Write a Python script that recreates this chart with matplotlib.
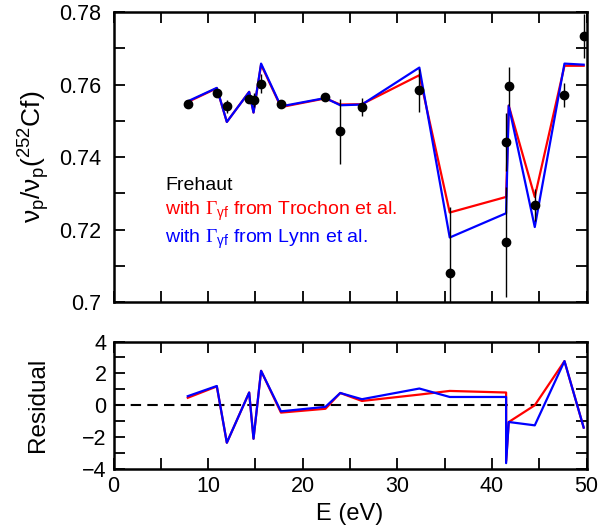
import numpy as np
import matplotlib
matplotlib.use("Agg")
import matplotlib.pyplot as plt
from matplotlib.ticker import MultipleLocator

plt.rcParams['font.family'] = ['Liberation Sans', 'DejaVu Sans']
plt.rcParams['mathtext.fontset'] = 'custom'
plt.rcParams['mathtext.rm'] = 'Liberation Sans'
plt.rcParams['mathtext.it'] = 'Liberation Sans:italic'
plt.rcParams['mathtext.sf'] = 'Liberation Serif'

# Frehaut measurements
energy = [7.85, 10.92, 11.98, 14.34, 14.8, 15.6, 17.7, 22.4, 23.97, 26.26,
          32.33, 35.54, 41.5, 41.5, 41.78, 44.53, 47.67, 49.7]
nu_ratio = [0.7546, 0.7577, 0.7540, 0.7559, 0.7557, 0.7603, 0.7546, 0.7567, 0.7471, 0.7538,
            0.7584, 0.7081, 0.7442, 0.7166, 0.7595, 0.7267, 0.7571, 0.7734]
nu_err = [0.0006, 0.0006, 0.0017, 0.0010, 0.0020, 0.0025, 0.0008, 0.0008, 0.0090, 0.0024,
          0.0060, 0.0180, 0.0080, 0.0152, 0.0054, 0.0044, 0.0033, 0.0060]

# model curves
trochon = [0.7552, 0.7590, 0.7497, 0.7580, 0.7523, 0.7655, 0.7538, 0.7562, 0.7545, 0.7546,
           0.7626, 0.7247, 0.7290, 0.7290, 0.7542, 0.7290, 0.7652, 0.7652]
lynn = [0.7554, 0.7591, 0.7497, 0.7580, 0.7523, 0.7658, 0.7540, 0.7563, 0.7543, 0.7545,
        0.7647, 0.7178, 0.7245, 0.7245, 0.7542, 0.7207, 0.7658, 0.7655]

# residuals
res_trochon = [0.47, 1.18, -2.35, 0.80, -2.10, 2.16, -0.46, -0.22, 0.77, 0.27,
               0.67, 0.90, 0.80, -3.50, -1.05, 0.00, 2.77, -1.40]
res_lynn = [0.57, 1.21, -2.35, 0.80, -2.10, 2.16, -0.38, -0.10, 0.77, 0.38,
            1.05, 0.52, 0.52, -3.63, -1.05, -1.26, 2.77, -1.40]

labels = ['Frehaut',
          r'with $\mathsf{Γ}_{\mathrm{γf}}$ from Trochon et al.',
          r'with $\mathsf{Γ}_{\mathrm{γf}}$ from Lynn et al.']
label_colors = ['black', 'red', 'blue']
label_y = [0.7308, 0.7239, 0.7162]

fig = plt.figure(figsize=(5.98, 5.28), dpi=100)
ax1 = fig.add_axes([0.1898, 0.428, 0.791, 0.549])
ax2 = fig.add_axes([0.1898, 0.1117, 0.791, 0.2415])

lw = 1.6
ax1.plot(energy, trochon, color='red', lw=lw, zorder=2)
ax1.plot(energy, lynn, color='blue', lw=lw, zorder=3)
ax1.errorbar(energy, nu_ratio, yerr=nu_err, fmt='o', color='black', ms=6,
             elinewidth=1.0, capsize=0, zorder=4)
ax1.set_xlim(0, 50)
ax1.set_ylim(0.70, 0.78)
ax1.yaxis.set_minor_locator(MultipleLocator(0.01))
ax1.set_yticks([0.70, 0.72, 0.74, 0.76, 0.78])
ax1.set_yticklabels(['0.7', '0.72', '0.74', '0.76', '0.78'])
ax1.xaxis.set_major_locator(MultipleLocator(10))
ax1.xaxis.set_minor_locator(MultipleLocator(5))
ax1.tick_params(axis='x', labelbottom=False)
ax1.set_ylabel(r'$\mathrm{ν_p/ν_p(^{252}Cf)}$', fontsize=19, labelpad=5)

for txt, c, y in zip(labels, label_colors, label_y):
    ax1.text(5.45, y, txt, color=c, fontsize=14)

ax2.axhline(0, color='black', lw=1.5, ls=(0, (5, 3)), zorder=1)
ax2.plot(energy, res_trochon, color='red', lw=lw, zorder=2)
ax2.plot(energy, res_lynn, color='blue', lw=lw, zorder=3)
ax2.set_xlim(0, 50)
ax2.set_ylim(-4, 4)
ax2.yaxis.set_major_locator(MultipleLocator(2))
ax2.yaxis.set_minor_locator(MultipleLocator(1))
ax2.xaxis.set_major_locator(MultipleLocator(10))
ax2.xaxis.set_minor_locator(MultipleLocator(5))
ax2.set_xlabel('E (eV)', fontsize=17, labelpad=4)
ax2.set_ylabel('Residual', fontsize=17.5, labelpad=24)

for ax in (ax1, ax2):
    for s in ax.spines.values():
        s.set_linewidth(1.8)
    ax.tick_params(which='both', direction='in', top=True, right=True,
                   length=8, width=1.3, labelsize=15.5, pad=5)
ax1.tick_params(axis='y', pad=9)

fig.savefig('out.png', dpi=100)
